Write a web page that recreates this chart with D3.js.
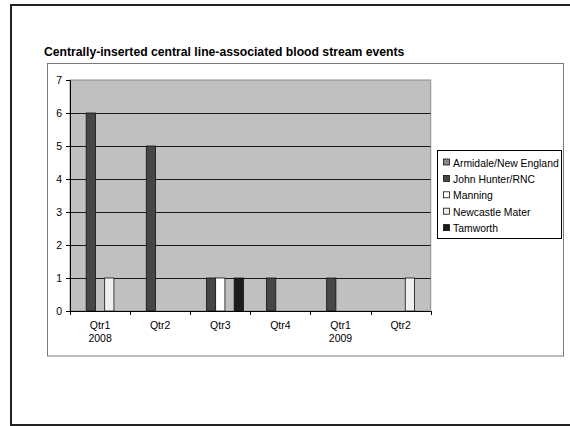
<!DOCTYPE html>
<html>
<head>
<meta charset="utf-8">
<script src="https://cdn.jsdelivr.net/npm/d3@7"></script>
<style>
  html, body { margin: 0; padding: 0; background: #fff; }
  svg { display: block; }
  text { font-family: "Liberation Sans", Arial, sans-serif; fill: #000; }
</style>
</head>
<body>
<svg id="chart" width="570" height="426"></svg>
<script>
// Quarterly CLABSI events by hospital
const categories = ["Qtr1\n2008", "Qtr2", "Qtr3", "Qtr4", "Qtr1\n2009", "Qtr2"];
const seriesNames = ["Armidale/New England", "John Hunter/RNC", "Manning", "Newcastle Mater", "Tamworth"];
const armidale = [0, 0, 0, 0, 0, 0];
const johnHunter = [6, 5, 1, 1, 1, 0];
const manning = [0, 0, 1, 0, 0, 0];
const newcastleMater = [1, 0, 0, 0, 0, 1];
const tamworth = [0, 0, 1, 0, 0, 0];
const yTicks = [0, 1, 2, 3, 4, 5, 6, 7];
const seriesColors = ["#8a8a8a", "#464646", "#ffffff", "#f0f0f0", "#1c1c1c"];

const seriesValues = [armidale, johnHunter, manning, newcastleMater, tamworth];

const svg = d3.select("#chart");

// outer frame
svg.append("path")
  .attr("d", "M11,426 L11,5 L572,5 M11,425 L572,425")
  .attr("fill", "none").attr("stroke", "#222").attr("stroke-width", 2);

// title
svg.append("text")
  .attr("x", 44).attr("y", 56)
  .attr("font-size", 12.2).attr("font-weight", "bold")
  .text("Centrally-inserted central line-associated blood stream events");

// chart frame
svg.append("rect")
  .attr("x", 47.5).attr("y", 63.5).attr("width", 516).attr("height", 292.5)
  .attr("fill", "#fff").attr("stroke", "#7a7a7a").attr("stroke-width", 1);

const plot = { left: 70, right: 430.7, top: 80, bottom: 311 };

const x0 = d3.scaleBand()
  .domain(d3.range(categories.length))
  .range([plot.left, plot.right])
  .padding(0);

const cw = x0.bandwidth();
const bw = cw / 6.5;
const x1 = d3.scaleBand()
  .domain(d3.range(seriesNames.length))
  .range([0.75 * bw, cw - 0.75 * bw])
  .padding(0);

const y = d3.scaleLinear().domain([0, 7]).range([plot.bottom, plot.top]);

// plot background
svg.append("rect")
  .attr("x", plot.left).attr("y", plot.top)
  .attr("width", plot.right - plot.left).attr("height", plot.bottom - plot.top)
  .attr("fill", "#c0c0c0").attr("stroke", "#8c8c8c").attr("stroke-width", 1);

// gridlines
svg.append("g")
  .selectAll("line")
  .data(yTicks.filter(v => v > 0 && v < 7))
  .join("line")
  .attr("x1", plot.left).attr("x2", plot.right)
  .attr("y1", d => Math.round(y(d)) + 0.5).attr("y2", d => Math.round(y(d)) + 0.5)
  .attr("stroke", "#1a1a1a").attr("stroke-width", 1);

// bars
const groups = svg.append("g")
  .selectAll("g")
  .data(seriesValues)
  .join("g")
  .attr("fill", (d, i) => seriesColors[i]);

groups.selectAll("rect")
  .data((vals, si) => vals.map((v, ci) => ({ v, ci, si })).filter(d => d.v > 0))
  .join("rect")
  .attr("x", d => x0(d.ci) + x1(d.si))
  .attr("width", x1.bandwidth())
  .attr("y", d => y(d.v))
  .attr("height", d => y(0) - y(d.v))
  .attr("stroke", "#111").attr("stroke-width", 0.8);

// y axis
const yAxis = d3.axisLeft(y).tickValues(yTicks).tickSize(4).tickPadding(4).tickFormat(d3.format("d"));
const gy = svg.append("g").attr("transform", `translate(${plot.left},0)`).call(yAxis);
gy.select(".domain").attr("stroke", "#000");
gy.selectAll(".tick line").attr("stroke", "#000");
gy.selectAll(".tick text").attr("font-size", 10.5).attr("font-family", "Liberation Sans, Arial, sans-serif").attr("fill", "#000");

// x axis
const xLin = d3.scaleLinear().domain([0, categories.length]).range([plot.left, plot.right]);
const gx = svg.append("g").attr("transform", `translate(0,${plot.bottom})`);
gx.append("line").attr("x1", plot.left).attr("x2", plot.right).attr("y1", 0.5).attr("y2", 0.5).attr("stroke", "#000");
gx.selectAll("line.tk")
  .data(d3.range(categories.length + 1))
  .join("line").attr("class", "tk")
  .attr("x1", d => Math.round(xLin(d)) + 0.5).attr("x2", d => Math.round(xLin(d)) + 0.5)
  .attr("y1", 0).attr("y2", 4).attr("stroke", "#000");
gx.selectAll("text")
  .data(categories)
  .join("text")
  .attr("text-anchor", "middle")
  .attr("font-size", 10.5)
  .attr("x", (d, i) => x0(i) + cw / 2)
  .attr("y", 18)
  .each(function (d) {
    const parts = d.split("\n");
    d3.select(this).selectAll("tspan").data(parts).join("tspan")
      .attr("x", d3.select(this).attr("x"))
      .attr("dy", (p, k) => k === 0 ? 0 : 13)
      .text(p => p);
  });

// legend
const lg = svg.append("g").attr("transform", "translate(437,150)");
lg.append("rect").attr("x", 0.5).attr("y", 0.5).attr("width", 124).attr("height", 88)
  .attr("fill", "#fff").attr("stroke", "#000").attr("stroke-width", 1);
const items = lg.selectAll("g.item")
  .data(seriesNames)
  .join("g").attr("class", "item")
  .attr("transform", (d, i) => `translate(6,${12.5 + i * 16.4})`);
items.append("rect")
  .attr("x", 0.5).attr("y", -3.5).attr("width", 6).attr("height", 6)
  .attr("fill", (d, i) => seriesColors[i]).attr("stroke", "#111").attr("stroke-width", 0.8);
items.append("text")
  .attr("x", 10).attr("y", 4)
  .attr("font-size", 10.4)
  .text(d => d);
</script>
</body>
</html>
